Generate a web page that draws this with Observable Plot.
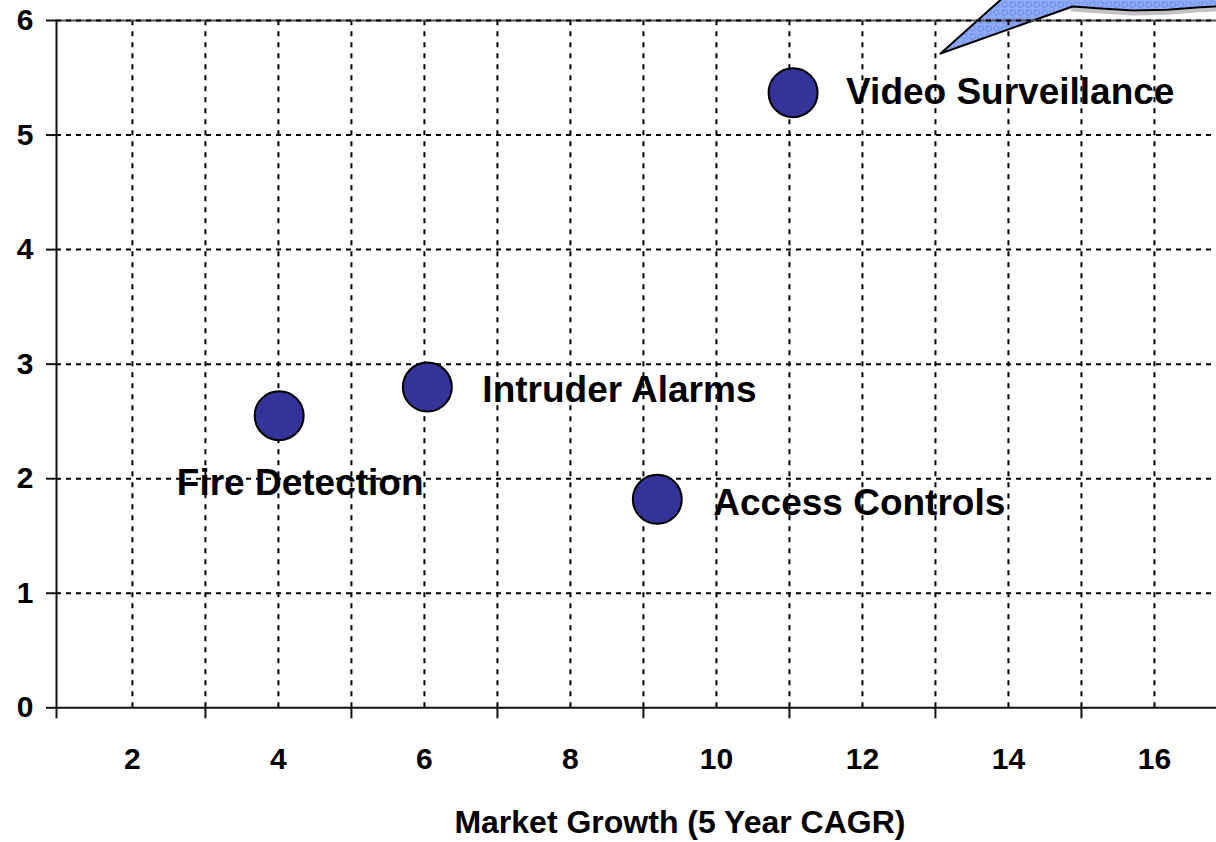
<!DOCTYPE html>
<html><head><meta charset="utf-8">
<script src="https://cdn.jsdelivr.net/npm/d3@7"></script>
<script src="https://cdn.jsdelivr.net/npm/@observablehq/plot@0.6"></script>
<style>html,body{margin:0;padding:0;background:#fff;overflow:hidden}</style>
</head><body><div id="chart"></div>
<script>
// ---- data ----
const categories = ["Fire Detection", "Intruder Alarms", "Access Controls", "Video Surveillance"];
const growth = [4.01, 6.04, 9.19, 11.05];      // Market Growth (5 Year CAGR)
const share = [2.55, 2.80, 1.82, 5.37];         // y value
const xTickLabels = [2, 4, 6, 8, 10, 12, 14, 16];
const xTickMarks = [3, 5, 7, 9, 11, 13, 15];
const xGrid = [2, 3, 4, 5, 6, 7, 8, 9, 10, 11, 12, 13, 14, 15, 16];
const yTickLabels = [0, 1, 2, 3, 4, 5, 6];
const yGrid = [1, 2, 3, 4, 5];
const xTitle = "Market Growth (5 Year CAGR)";
const xFullDomain = [1, 18];
// callout bubble outline (data units)
const calloutX = [13.07, 14.19, 17.2, 17.2, 16.63, 16.18, 15.71, 15.26, 14.88, 13.07];
const calloutY = [5.712, 6.35, 6.35, 6.13, 6.116, 6.093, 6.087, 6.105, 6.122, 5.712];
const calloutShadowX = [14.88, 15.26, 15.71, 16.18, 16.63, 17.2];
const calloutShadowY = [6.122, 6.105, 6.087, 6.093, 6.116, 6.13];

const points = categories.map((c, i) => ({name: c, x: growth[i], y: share[i]}));
const callout = calloutX.map((x, i) => ({x, y: calloutY[i]}));
const shadow = calloutShadowX.map((x, i) => ({x, y: calloutShadowY[i]}));

// label placement (style)
const labelStyle = {
  "Fire Detection": {dx: 21, dy: 67, textAnchor: "middle"},
  "Intruder Alarms": {dx: 55, dy: 3, textAnchor: "start"},
  "Access Controls": {dx: 56, dy: 3.5, textAnchor: "start"},
  "Video Surveillance": {dx: 53, dy: -0.5, textAnchor: "start"}
};

const xMin = 0.96;
const font = "'Liberation Sans', Arial, Helvetica, sans-serif";

const chart = Plot.plot({
  width: 1216, height: 842,
  marginLeft: 56, marginRight: 0, marginTop: 20, marginBottom: 134.7,
  x: {domain: [xMin, 16.85], axis: null},
  y: {domain: [0, 6], axis: null},
  style: {fontFamily: font, background: "white"},
  marks: [
    Plot.line(shadow, {x: "x", y: "y", stroke: "#9a9a9a", strokeWidth: 4, dy: 3, strokeOpacity: 0.6}),
    Plot.line(callout, {x: "x", y: "y", fill: "url(#bubblePattern)", stroke: "black", strokeWidth: 2}),
    Plot.ruleX(xGrid, {y1: 0, y2: 6, stroke: "black", strokeWidth: 2, strokeDasharray: "5,6"}),
    Plot.ruleY(yGrid, {stroke: "black", strokeWidth: 2, strokeDasharray: "5,5"}),
    Plot.ruleY([6], {stroke: "#555", strokeWidth: 2}),
    Plot.ruleY([6], {stroke: "black", strokeWidth: 2, strokeDasharray: "5,5"}),
    Plot.ruleX([xMin], {y1: 0, y2: 6, stroke: "#111", strokeWidth: 2}),
    Plot.ruleY([0], {stroke: "#111", strokeWidth: 2}),
    Plot.axisY({ticks: yTickLabels, tickSize: 10, tickPadding: 13, fontSize: 30, fontWeight: "bold",
      label: null, stroke: "#111", strokeWidth: 2, fill: "black", tickFormat: d => String(d)}),
    Plot.axisX({ticks: [xMin, ...xTickMarks], tickSize: 11, tickFormat: () => "", label: null,
      stroke: "#111", strokeWidth: 2}),
    Plot.text(xTickLabels, {x: d => d, frameAnchor: "bottom", dy: 51.5, text: d => String(d),
      fontSize: 30, fontWeight: "bold", fill: "black", lineAnchor: "middle"}),
    Plot.text([xTitle], {x: (xFullDomain[0] + xFullDomain[1]) / 2, frameAnchor: "bottom", dy: 115.4,
      text: d => d, fontSize: 32, fontWeight: "bold", fill: "black", lineAnchor: "middle"}),
    Plot.dot(points, {x: "x", y: "y", r: 24.5, fill: "#333399", stroke: "black", strokeWidth: 2}),
    ...points.map(p => Plot.text([p], {x: "x", y: "y", text: "name", fontSize: 37, fontWeight: "bold",
      fill: "black", lineAnchor: "middle", ...labelStyle[p.name]}))
  ]
});
// textured fill for the callout bubble
const ns = "http://www.w3.org/2000/svg";
const defs = document.createElementNS(ns, "defs");
defs.innerHTML = `<pattern id="bubblePattern" width="8" height="8" patternUnits="userSpaceOnUse">
  <rect width="8" height="8" fill="#8eaaf7"/>
  <circle cx="4" cy="4" r="2.6" fill="none" stroke="#6b8bef" stroke-width="1"/>
  <circle cx="4" cy="4" r="0.8" fill="#a9c0fa"/>
</pattern>`;
chart.insertBefore(defs, chart.firstChild);
document.getElementById("chart").appendChild(chart);
</script>
</body></html>
